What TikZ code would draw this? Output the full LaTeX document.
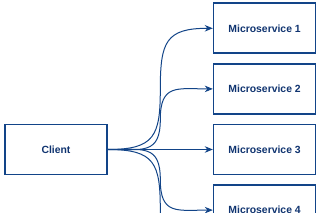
\documentclass[tikz,border=0pt]{standalone}
\usepackage{fontspec}
\setmainfont{Liberation Sans}
\usetikzlibrary{calc,arrows.meta,positioning}
\definecolor{edgeblue}{RGB}{18,68,136}
\definecolor{textblue}{RGB}{16,52,112}

\begin{document}
\begin{tikzpicture}[
        box/.style={rectangle, draw=edgeblue, line width=1.6pt, fill=white,
                    minimum width=102pt, minimum height=50pt, inner sep=0pt,
                    text=textblue, font=\fontsize{10.4}{12}\selectfont\bfseries},
        arr/.style={-{Stealth[length=8pt,width=6.5pt,inset=2.5pt]}, line width=1pt, edgeblue},
        curvy/.style={looseness=1.5}]
        \clip (-56pt,-63.5pt) rectangle (264pt,149.5pt);
        \node[box] (client) {Client};
        \node[box, right=105pt of client] (ms3) {Microservice 3};
        \node[box, above=9pt of ms3] (ms2) {Microservice 2};
        \node[box, above=9pt of ms2] (ms1) {Microservice 1};
        \node[box, below=9pt of ms3] (ms4) {Microservice 4};
        \coordinate (ms5) at ($(ms4.west)+(0,-61pt)$);
        \draw[arr] (client.east) to[out=0,in=-90,curvy] ($(client.east)!.5!(ms1.west)$)
                                 to[out=90,in=180,curvy] (ms1.west);
        \draw[arr] (client.east) to[out=0,in=-90,curvy] ($(client.east)!.5!(ms2.west)$)
                                 to[out=90,in=180,curvy] (ms2.west);
        \draw[arr] (client.east) -- (ms3.west);
        \draw[arr] (client.east) to[out=0,in=90,curvy] ($(client.east)!.5!(ms4.west)$)
                                 to[out=-90,in=180,curvy] (ms4.west);
        \draw[arr] (client.east) to[out=0,in=90,curvy] ($(client.east)!.5!(ms5)$)
                                 to[out=-90,in=180,curvy] (ms5);
    \end{tikzpicture}
\end{document}
